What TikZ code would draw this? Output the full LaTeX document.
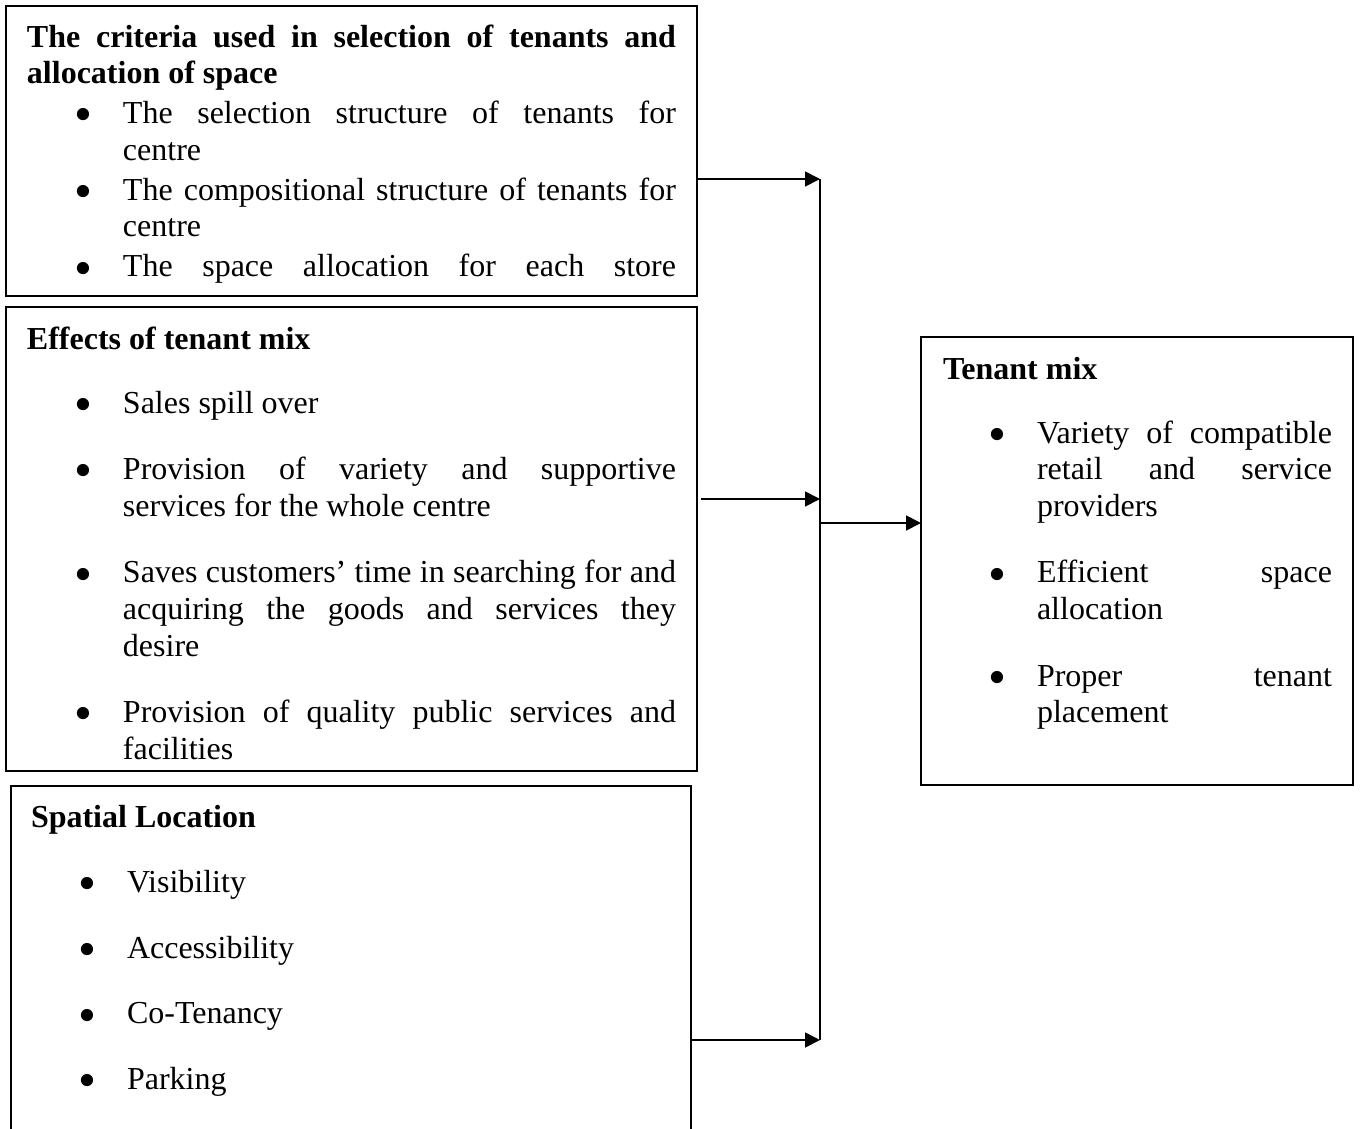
\documentclass[tikz,border=0pt]{standalone}
\usepackage{fontspec}
\setmainfont{Liberation Serif}
\usetikzlibrary{arrows.meta,calc}

\tolerance=10000
\hyphenpenalty=10000
\hbadness=10000
\vbadness=10000

% larger bullet mark
\newcommand{\bulletmark}{\raisebox{-0.26em}{\scalebox{1.6}{\textbullet}}}

% bullet list with given top and item spacing
\newenvironment{pointlist}[3]{%
  \begin{list}{\bulletmark}{%
    \setlength{\leftmargin}{#1}%
    \setlength{\labelsep}{31pt}%
    \setlength{\labelwidth}{20pt}%
    \setlength{\topsep}{#2}%
    \setlength{\itemsep}{#3}%
    \setlength{\parsep}{0pt}%
    \setlength{\partopsep}{0pt}}}
  {\end{list}}

\tikzset{
  box/.style={draw, line width=1.8pt, inner sep=0pt, outer sep=0pt, anchor=north west},
  txt/.style={inner sep=0pt, outer sep=0pt, anchor=north west, align=justify,
    font=\fontsize{32}{36.6}\selectfont},
  link/.style={line width=1.8pt}
}

\begin{document}
\begin{tikzpicture}[x=1pt, y=-1pt, >={Triangle[length=15pt,width=15pt]}]
			% page
			\clip (0,0) rectangle (1360,1129);
			% boxes
			\node[box, minimum width=691pt, minimum height=290pt] (criteria) at (6,6) {};
			\node[box, minimum width=691pt, minimum height=464pt] (effects) at (6,307) {};
			\node[box, minimum width=680pt, minimum height=360pt] (spatial) at (11,786) {};
			\node[box, minimum width=432pt, minimum height=448pt] (mix) at (921,337) {};
			% box texts
			\node[txt, text width=649pt] (criteriaText) at ($(criteria.north west)+(21,15.4)$) {%
				\strut{\bfseries The criteria used in selection of tenants and\linebreak allocation of space\par}
				\begin{pointlist}{96pt}{3.4pt}{3.4pt}
				\item The selection structure of tenants for\linebreak centre
				\item The compositional structure of tenants for\linebreak centre
				\item {\parfillskip=0pt The space allocation for each store\par}
				\end{pointlist}};
			\node[txt, text width=649pt] (effectsText) at ($(effects.north west)+(21,16.4)$) {%
				\strut{\bfseries Effects of tenant mix\par}
				\begin{pointlist}{96pt}{27.4pt}{30pt}
				\item Sales spill over
				\item Provision of variety and supportive\linebreak services for the whole centre
				\item Saves customers’ time in searching for and\linebreak acquiring the goods and services they\linebreak desire
				\item Provision of quality public services and\linebreak facilities
				\end{pointlist}};
			\node[txt, text width=639pt] (spatialText) at ($(spatial.north west)+(20,15.4)$) {%
				\strut{\bfseries Spatial Location\par}
				\begin{pointlist}{96pt}{29pt}{29pt}
				\item Visibility
				\item Accessibility
				\item Co-Tenancy
				\item Parking
				\end{pointlist}};
			\node[txt, text width=389pt] (mixText) at ($(mix.north west)+(22,16.4)$) {%
				\strut{\bfseries Tenant mix\par}
				\begin{pointlist}{94pt}{27.4pt}{30pt}
				\item Variety of compatible\linebreak retail and service\linebreak providers
				\item Efficient space\linebreak allocation
				\item Proper tenant\linebreak placement
				\end{pointlist}};
			% bus line
			\coordinate (busTop) at (820,179);
			\coordinate (busIn) at (820,499);
			\coordinate (busMid) at (820,523);
			\coordinate (busBot) at (820,1040);
			\draw[link] (busTop) -- (busBot);
			% arrows
			\draw[link, ->] (criteria.east |- busTop) -- (busTop);
			\draw[link, ->] ([xshift=4pt]effects.east |- busIn) -- (busIn);
			\draw[link, ->] (spatial.east |- busBot) -- (busBot);
			\draw[link, ->] (busMid) -- (mix.west |- busMid);
\end{tikzpicture}
\end{document}
